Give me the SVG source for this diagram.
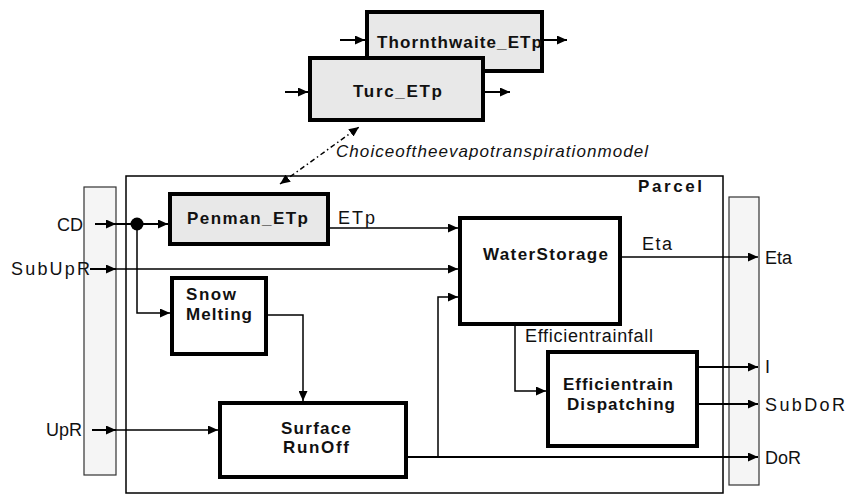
<svg xmlns="http://www.w3.org/2000/svg" width="846" height="496" viewBox="0 0 846 496">
<style>
.box{fill:#fff;stroke:#000;stroke-width:4}
.gray{fill:#e8e8e8}
.bar{fill:#f5f5f5;stroke:#333;stroke-width:1.2}
.b{font-family:"Liberation Sans",Arial,sans-serif;font-weight:bold;font-size:17px;fill:#111}
.r{font-family:"Liberation Sans",Arial,sans-serif;font-size:18px;fill:#111}
.it{font-family:"Liberation Sans",Arial,sans-serif;font-style:italic;font-size:17px;fill:#111}
.ln{fill:none;stroke:#000;stroke-width:1.5}
.lt{fill:none;stroke:#000;stroke-width:2}
</style>
<defs>
<marker id="ah" markerUnits="userSpaceOnUse" markerWidth="10" markerHeight="9" refX="10" refY="4.5" orient="auto">
<path d="M0,0 L10,4.5 L0,9 z" fill="#000"/>
</marker>
<marker id="ahs" markerUnits="userSpaceOnUse" markerWidth="10" markerHeight="9" refX="0" refY="4.5" orient="auto">
<path d="M10,0 L0,4.5 L10,9 z" fill="#000"/>
</marker>
</defs>

<g id="parcel">
<rect x="126" y="176" width="597" height="317" fill="none" stroke="#000" stroke-width="1.5"/>
<text class="b" x="638" y="192" font-size="16.5" textLength="64" lengthAdjust="spacing">Parcel</text>
</g>
<g id="left-bar"><rect class="bar" x="84" y="187" width="32" height="288"/></g>
<g id="right-bar"><rect class="bar" x="729" y="197" width="30" height="288"/></g>

<g id="connectors">
<line class="lt" x1="340" y1="40" x2="365" y2="40" marker-end="url(#ah)"/>
<line class="lt" x1="542" y1="40" x2="567" y2="40" marker-end="url(#ah)"/>
<line class="lt" x1="285" y1="92" x2="308" y2="92" marker-end="url(#ah)"/>
<line class="lt" x1="485" y1="92" x2="510" y2="92" marker-end="url(#ah)"/>
<line x1="280" y1="184" x2="359" y2="127" stroke="#000" stroke-width="1.5" stroke-dasharray="5 3 1.5 3" marker-start="url(#ahs)" marker-end="url(#ah)"/>
<line class="lt" x1="95" y1="224" x2="116" y2="224" marker-end="url(#ah)"/>
<line class="lt" x1="116" y1="224" x2="168" y2="224" marker-end="url(#ah)"/>
<circle cx="137" cy="224" r="6.5" fill="#000"/>
<polyline class="ln" points="137,224 137,313 170,313" marker-end="url(#ah)"/>
<line class="lt" x1="90" y1="269" x2="116" y2="269" marker-end="url(#ah)"/>
<line class="ln" x1="116" y1="269" x2="458" y2="269" marker-end="url(#ah)"/>
<line class="lt" x1="92" y1="430" x2="116" y2="430" marker-end="url(#ah)"/>
<line class="ln" x1="116" y1="430" x2="218" y2="430" marker-end="url(#ah)"/>
<line class="ln" x1="328" y1="228" x2="458" y2="228" marker-end="url(#ah)"/>
<polyline class="ln" points="266,315 303,315 303,401" marker-end="url(#ah)"/>
<line class="lt" x1="406" y1="457" x2="758" y2="457" marker-end="url(#ah)"/>
<polyline class="ln" points="438,457 438,297 458,297" marker-end="url(#ah)"/>
<line class="ln" x1="620" y1="257" x2="758" y2="257" marker-end="url(#ah)"/>
<polyline class="ln" points="515,324 515,391 546,391" marker-end="url(#ah)"/>
<line class="lt" x1="697" y1="367" x2="758" y2="367" marker-end="url(#ah)"/>
<line class="lt" x1="697" y1="404" x2="758" y2="404" marker-end="url(#ah)"/>
</g>

<g id="thornthwaite">
<rect class="box gray" x="367" y="12" width="175" height="59"/>
<text class="b" x="377" y="48" textLength="165" lengthAdjust="spacing">Thornthwaite_ETp</text>
</g>
<g id="turc">
<rect class="box gray" x="310" y="58" width="173" height="62"/>
<text class="b" x="353" y="97" textLength="89" lengthAdjust="spacing">Turc_ETp</text>
</g>
<text id="choice-label" class="it" x="336" y="157" textLength="312" lengthAdjust="spacing">Choiceoftheevapotranspirationmodel</text>

<g id="penman">
<rect class="box gray" x="170" y="194" width="158" height="50"/>
<text class="b" x="187" y="224" textLength="121" lengthAdjust="spacing">Penman_ETp</text>
</g>
<text id="etp-label" class="r" x="338" y="224" textLength="37" lengthAdjust="spacing">ETp</text>

<g id="snow">
<rect class="box" x="172" y="278" width="94" height="76"/>
<text class="b" x="186" y="300" textLength="50" lengthAdjust="spacing">Snow</text>
<text class="b" x="186" y="320" textLength="66" lengthAdjust="spacing">Melting</text>
</g>

<g id="surface">
<rect class="box" x="220" y="403" width="186" height="74"/>
<text class="b" x="281" y="434" textLength="70" lengthAdjust="spacing">Surface</text>
<text class="b" x="283" y="453" textLength="66" lengthAdjust="spacing">RunOff</text>
</g>

<g id="waterstorage">
<rect class="box" x="460" y="218" width="160" height="106"/>
<text class="b" x="483" y="260" textLength="125" lengthAdjust="spacing">WaterStorage</text>
</g>
<text id="eta-inner" class="r" x="642" y="250" textLength="30" lengthAdjust="spacing">Eta</text>
<text id="rainfall-label" class="r" x="525" y="342" textLength="128" lengthAdjust="spacing">Efficientrainfall</text>

<g id="dispatching">
<rect class="box" x="548" y="352" width="149" height="94"/>
<text class="b" x="563" y="390" textLength="110" lengthAdjust="spacing">Efficientrain</text>
<text class="b" x="567" y="410" textLength="108" lengthAdjust="spacing">Dispatching</text>
</g>

<g id="inputs">
<text class="r" x="83" y="231" text-anchor="end">CD</text>
<text class="r" x="11" y="275" textLength="79" lengthAdjust="spacing">SubUpR</text>
<text class="r" x="82" y="436" text-anchor="end">UpR</text>
</g>
<g id="outputs">
<text class="r" x="765" y="264">Eta</text>
<text class="r" x="765" y="373">I</text>
<text class="r" x="765" y="411" textLength="80" lengthAdjust="spacing">SubDoR</text>
<text class="r" x="765" y="464">DoR</text>
</g>
</svg>
